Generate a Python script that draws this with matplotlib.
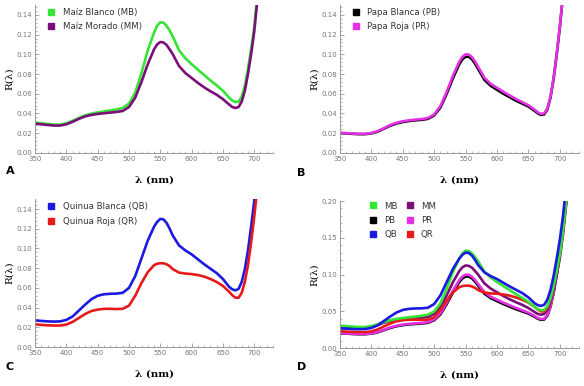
import numpy as np
import matplotlib
matplotlib.use("Agg")
import matplotlib.pyplot as plt
from matplotlib.lines import Line2D

# longitudes de onda (nm)
wl = [350, 360, 370, 380, 390, 400, 410, 420, 430, 440, 450, 460, 470, 480, 490,
      500, 510, 520, 530, 540, 545, 550, 555, 560, 565, 570, 580, 590, 600, 610,
      620, 630, 640, 650, 660, 665, 670, 675, 680, 685, 690, 695, 700, 705, 710, 715]

# reflectancia de cada muestra
MB = [.0305, .0300, .0293, .0287, .0287, .0300, .0325, .0355, .0380, .0398, .0410, .0420,
      .0430, .0440, .0455, .0500, .0610, .0810, .1040, .1220, .1290, .1325, .1320, .1290,
      .1240, .1180, .1040, .0960, .0900, .0845, .0790, .0735, .0685, .0630, .0560, .0530,
      .0515, .0520, .0570, .0680, .0850, .1050, .1280, .1600, .2000, .2450]
MM = [.0295, .0290, .0283, .0277, .0277, .0290, .0315, .0345, .0370, .0385, .0395, .0402,
      .0408, .0415, .0425, .0465, .0560, .0720, .0900, .1050, .1100, .1125, .1120, .1095,
      .1050, .1000, .0880, .0810, .0760, .0710, .0665, .0625, .0590, .0545, .0490, .0465,
      .0455, .0465, .0520, .0630, .0800, .1000, .1230, .1550, .1950, .2400]
PB = [.0200, .0198, .0193, .0190, .0190, .0198, .0215, .0245, .0275, .0298, .0313, .0323,
      .0330, .0335, .0345, .0380, .0460, .0600, .0760, .0900, .0950, .0975, .0975, .0950,
      .0905, .0850, .0740, .0680, .0640, .0600, .0565, .0530, .0500, .0470, .0425, .0400,
      .0385, .0390, .0440, .0560, .0750, .1000, .1280, .1600, .2000, .2450]
PR = [.0203, .0200, .0196, .0193, .0193, .0201, .0220, .0250, .0282, .0305, .0320, .0330,
      .0337, .0343, .0353, .0390, .0475, .0620, .0785, .0925, .0975, .1000, .0998, .0972,
      .0928, .0872, .0762, .0700, .0660, .0620, .0583, .0548, .0515, .0483, .0437, .0410,
      .0395, .0400, .0450, .0570, .0760, .1010, .1290, .1610, .2010, .2460]
QB = [.0270, .0265, .0260, .0258, .0260, .0275, .0310, .0370, .0430, .0485, .0520, .0535,
      .0540, .0542, .0550, .0600, .0720, .0900, .1080, .1220, .1270, .1300, .1295, .1260,
      .1200, .1130, .1030, .0980, .0940, .0890, .0840, .0795, .0750, .0690, .0610, .0585,
      .0575, .0590, .0660, .0790, .0980, .1220, .1480, .1800, .2200, .2650]
QR = [.0230, .0225, .0220, .0218, .0218, .0228, .0255, .0295, .0335, .0365, .0380, .0387,
      .0388, .0385, .0388, .0420, .0520, .0650, .0760, .0830, .0845, .0850, .0850, .0840,
      .0820, .0790, .0755, .0745, .0740, .0730, .0715, .0690, .0660, .0620, .0560, .0525,
      .0500, .0500, .0550, .0660, .0830, .1060, .1320, .1620, .2000, .2450]

colores = {"MB": "#33e633", "MM": "#7a0f7a", "PB": "#000000",
           "PR": "#e630e6", "QB": "#1a1ae0", "QR": "#e61a1a"}
series = {"MB": MB, "MM": MM, "PB": PB, "PR": PR, "QB": QB, "QR": QR}

tick_gray = "#777777"

fig = plt.figure(figsize=(5.84, 3.86), dpi=100)

def panel(pos, keys, labels, ymax, ymaj, ymin_step, letter, letter_xy, ncol=1,
          leg_anchor=(0.0, 1.03)):
    ax = fig.add_axes(pos)
    for k in keys:
        ax.plot(wl, series[k], color=colores[k], lw=1.9, solid_capstyle="round")
    ax.set_xlim(350, 730)
    ax.set_ylim(0, ymax)
    ax.set_xticks(np.arange(350, 701, 50))
    ax.set_xticks(np.arange(350, 731, 10), minor=True)
    ax.set_yticks(np.arange(0, ymax + 1e-9, ymaj))
    ax.set_yticks(np.arange(0, ymax + 1e-9, ymin_step), minor=True)
    ax.yaxis.set_major_formatter(matplotlib.ticker.FormatStrFormatter("%.2f"))
    for s in ["top", "right"]:
        ax.spines[s].set_visible(False)
    for s in ["left", "bottom"]:
        ax.spines[s].set_color("#999999")
        ax.spines[s].set_linewidth(0.7)
    ax.tick_params(which="both", direction="in", colors="#999999", labelcolor=tick_gray,
                   labelsize=5.0, pad=2)
    ax.tick_params(which="major", length=3, width=0.6)
    ax.tick_params(which="minor", length=1.6, width=0.5)
    ax.set_xlabel("λ (nm)", family="DejaVu Serif", fontsize=7.5, labelpad=10,
                  fontweight="bold")
    ax.set_ylabel("R(λ)", family="DejaVu Serif", fontsize=7.5, labelpad=2)
    handles = [Line2D([], [], ls="none", marker="s", markersize=5, color=colores[k]) for k in labels]
    ax.legend(handles, list(labels.values()), loc="upper left", bbox_to_anchor=leg_anchor,
              frameon=False, fontsize=6.2, handletextpad=0.3, labelspacing=0.6,
              ncol=ncol, columnspacing=0.4, labelcolor="#333333")
    fig.text(letter_xy[0], letter_xy[1], letter, fontsize=8, fontweight="bold", va="center")
    return ax

panel([0.060, 0.604, 0.4075, 0.383], ["MB", "MM"],
      {"MB": "Maíz Blanco (MB)", "MM": "Maíz Morado (MM)"}, 0.15, 0.02, 0.004, "A",
      (0.010, 0.558))
panel([0.582, 0.604, 0.409, 0.383], ["PB", "PR"],
      {"PB": "Papa Blanca (PB)", "PR": "Papa Roja (PR)"}, 0.15, 0.02, 0.004, "B",
      (0.508, 0.553))
panel([0.060, 0.101, 0.4075, 0.383], ["QB", "QR"],
      {"QB": "Quinua Blanca (QB)", "QR": "Quinua Roja (QR)"}, 0.15, 0.02, 0.004, "C",
      (0.010, 0.049))
panel([0.582, 0.098, 0.409, 0.381], ["PB", "PR", "MM", "QR", "MB", "QB"],
      {"MB": "MB", "PB": "PB", "QB": "QB", "MM": "MM", "PR": "PR", "QR": "QR"},
      0.20, 0.05, 0.01, "D", (0.508, 0.049), ncol=2, leg_anchor=(0.07, 1.05))

fig.savefig("out.png", dpi=100)
